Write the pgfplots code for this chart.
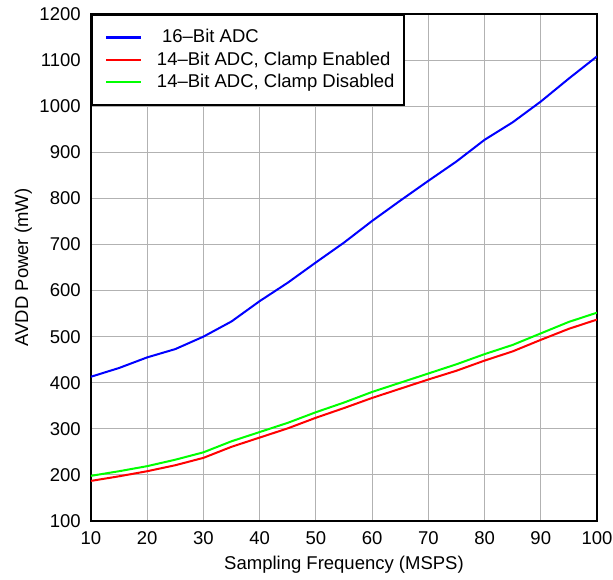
\documentclass[border=0pt]{standalone}
\usepackage{pgfplots}
\pgfplotsset{compat=1.18}
\usepackage{fontspec}
\setmainfont{Liberation Sans}
\begin{document}
\fontsize{18.5}{22}\selectfont
\begin{tikzpicture}
\begin{axis}[
  at={(0pt,0pt)}, anchor=south west,
  scale only axis,
  width=506pt, height=507pt,
  xmin=10, xmax=100, ymin=100, ymax=1200,
  xtick={10,20,...,100}, ytick={100,200,...,1200},
  grid=major,
  major grid style={gray!60, line width=1pt},
  axis line style={black, line width=2pt},
  tick style={draw=none},
  /pgf/number format/assume math mode=true,
  /pgf/number format/1000 sep={},
  ticklabel style={font=\fontsize{18.5}{22}\selectfont},
  xticklabel style={yshift=-4pt},
  yticklabel style={xshift=-4pt},
  xlabel={Sampling Frequency (MSPS)},
  ylabel={AVDD Power (mW)},
  label style={font=\fontsize{18.5}{22}\selectfont},
  xlabel style={yshift=1pt},
  ylabel style={yshift=-5pt},
  legend style={at={(0,1)}, anchor=north west, draw=black, line width=2pt,
    font=\fontsize{18.5}{22}\selectfont, inner xsep=7.5pt, inner ysep=13pt, row sep=3pt,
    nodes={inner sep=1.5pt}},
  legend cell align=left,
  legend image code/.code={\path[draw=none,fill=none] (0pt,-3pt) rectangle (56pt,3pt);
    \draw[#1, line width=2.5pt] (7pt,0pt) -- (42pt,0pt);},
]
\addplot[blue, line width=2pt] coordinates {
(10,413)(15,432)(20,455)(25,473)(30,500)(35,533)(40,577)(45,617)(50,661)(55,704)(60,751)(65,795)(70,838)(75,880)(80,927)(85,965)(90,1010)(95,1060)(100,1108)};
\addlegendentry{\ 16\textendash Bit ADC}
\addplot[red, line width=2pt] coordinates {
(10,187)(15,197)(20,208)(25,221)(30,237)(35,261)(40,281)(45,301)(50,324)(55,345)(60,367)(65,387)(70,407)(75,426)(80,448)(85,468)(90,493)(95,517)(100,537)};
\addlegendentry{14\textendash Bit ADC, Clamp Enabled}
\addplot[green, line width=2pt] coordinates {
(10,198)(15,208)(20,219)(25,233)(30,249)(35,273)(40,293)(45,313)(50,336)(55,357)(60,380)(65,400)(70,420)(75,440)(80,462)(85,482)(90,507)(95,532)(100,552)};
\addlegendentry{14\textendash Bit ADC, Clamp Disabled}
\end{axis}
\pgfresetboundingbox
\path (-91pt,-59pt) rectangle (522pt,521pt);
\end{tikzpicture}
\end{document}
